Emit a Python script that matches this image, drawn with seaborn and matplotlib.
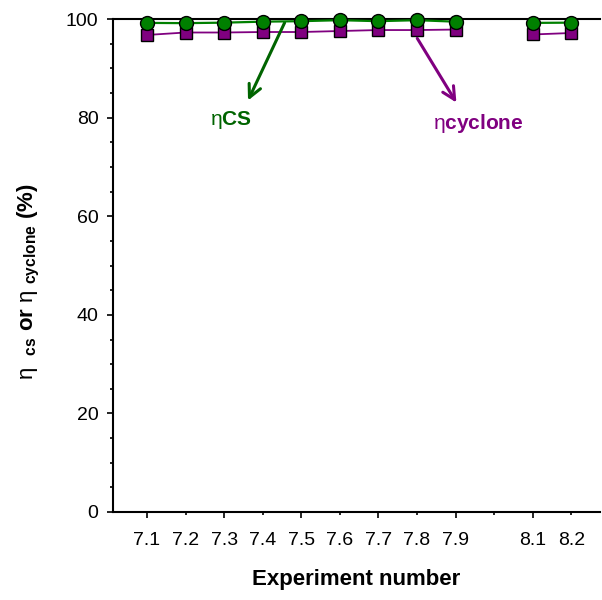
import numpy as np
import pandas as pd
import matplotlib
matplotlib.use("Agg")
import matplotlib.pyplot as plt
from matplotlib.ticker import MultipleLocator, FixedLocator
import seaborn as sns

# data
experiments = ["7.1", "7.2", "7.3", "7.4", "7.5", "7.6", "7.7", "7.8", "7.9", "8.1", "8.2"]
positions = [1, 2, 3, 4, 5, 6, 7, 8, 9, 11, 12]
series_run = [7, 7, 7, 7, 7, 7, 7, 7, 7, 8, 8]
eta_cs = [99.25, 99.2, 99.3, 99.5, 99.6, 99.8, 99.6, 99.8, 99.5, 99.25, 99.3]
eta_cyclone = [96.8, 97.3, 97.3, 97.4, 97.4, 97.6, 97.8, 97.8, 97.9, 96.9, 97.2]

df = pd.DataFrame({"pos": positions, "run": series_run,
                   "cs": eta_cs, "cyclone": eta_cyclone})

sns.set_style("ticks")
plt.rcParams["font.family"] = ["Liberation Sans", "DejaVu Sans"]
plt.rcParams["text.color"] = "black"
plt.rcParams["axes.labelcolor"] = "black"
plt.rcParams["mathtext.fontset"] = "custom"
plt.rcParams["mathtext.rm"] = "Liberation Sans:bold"
plt.rcParams["mathtext.bf"] = "Liberation Sans:bold"
plt.rcParams["mathtext.it"] = "Liberation Sans"

fig = plt.figure(figsize=(6.02, 6.0), dpi=100)
ax = fig.add_axes([0.1877, 0.1467, 0.8093, 0.8213])

green = "#008000"
purple = "#800080"

sns.lineplot(data=df, x="pos", y="cyclone", units="run", estimator=None,
             color=purple, lw=1.3, marker="s", markersize=9,
             markerfacecolor=purple, markeredgecolor="black", markeredgewidth=1,
             clip_on=False, ax=ax, legend=False, zorder=3)
sns.lineplot(data=df, x="pos", y="cs", units="run", estimator=None,
             color=green, lw=1.6, marker="o", markersize=10,
             markerfacecolor=green, markeredgecolor="black", markeredgewidth=1,
             clip_on=False, ax=ax, legend=False, zorder=4)

ax.set_xlim(0.12, 12.75)
ax.set_ylim(0, 100)

ax.xaxis.set_major_locator(FixedLocator([1, 3, 5, 7, 9, 11]))
ax.xaxis.set_minor_locator(FixedLocator([2, 4, 6, 8, 10, 12]))
lab = dict(zip(positions, experiments))
ax.set_xticklabels([lab.get(p, "") for p in [1, 3, 5, 7, 9, 11]])
ax.set_xticklabels([lab.get(p, "") for p in [2, 4, 6, 8, 10, 12]], minor=True)
ax.yaxis.set_major_locator(MultipleLocator(20))
ax.yaxis.set_minor_locator(MultipleLocator(5))

ax.tick_params(which="major", direction="out", length=4.5, width=1.2,
               labelsize=14, pad=10, color="black", labelcolor="black")
ax.tick_params(which="minor", direction="out", length=2.5, width=1.2,
               labelsize=14, pad=12, color="black", labelcolor="black")
ax.tick_params(axis="y", which="major", pad=6)

for s in ["left", "bottom", "top"]:
    ax.spines[s].set_linewidth(1.5)
    ax.spines[s].set_color("black")
ax.spines["right"].set_visible(False)

ax.set_xlabel("Experiment number", fontsize=16, fontweight="bold", labelpad=14)
ax.set_ylabel(r"$\eta$  $_{\rm cs}$ or $\eta$ $_{\rm cyclone}$ (%)", fontsize=16,
              fontweight="bold")
ax.yaxis.set_label_coords(-0.145, 0.468)

ax.annotate("", xy=(3.59, 83), xytext=(4.6, 99.8),
            arrowprops=dict(arrowstyle="->,head_length=0.9,head_width=0.45",
                            color="#006400", lw=2.2))
ax.text(3.18, 79.5, r"$\eta$CS", color="#006400", fontsize=15, fontweight="bold",
        ha="center", va="center")
ax.annotate("", xy=(9.06, 82.6), xytext=(7.97, 96.6),
            arrowprops=dict(arrowstyle="->,head_length=0.9,head_width=0.45",
                            color=purple, lw=2.2))
ax.text(9.6, 78.9, r"$\eta$cyclone", color=purple, fontsize=15, fontweight="bold",
        ha="center", va="center")

fig.savefig("out.png", dpi=100)
